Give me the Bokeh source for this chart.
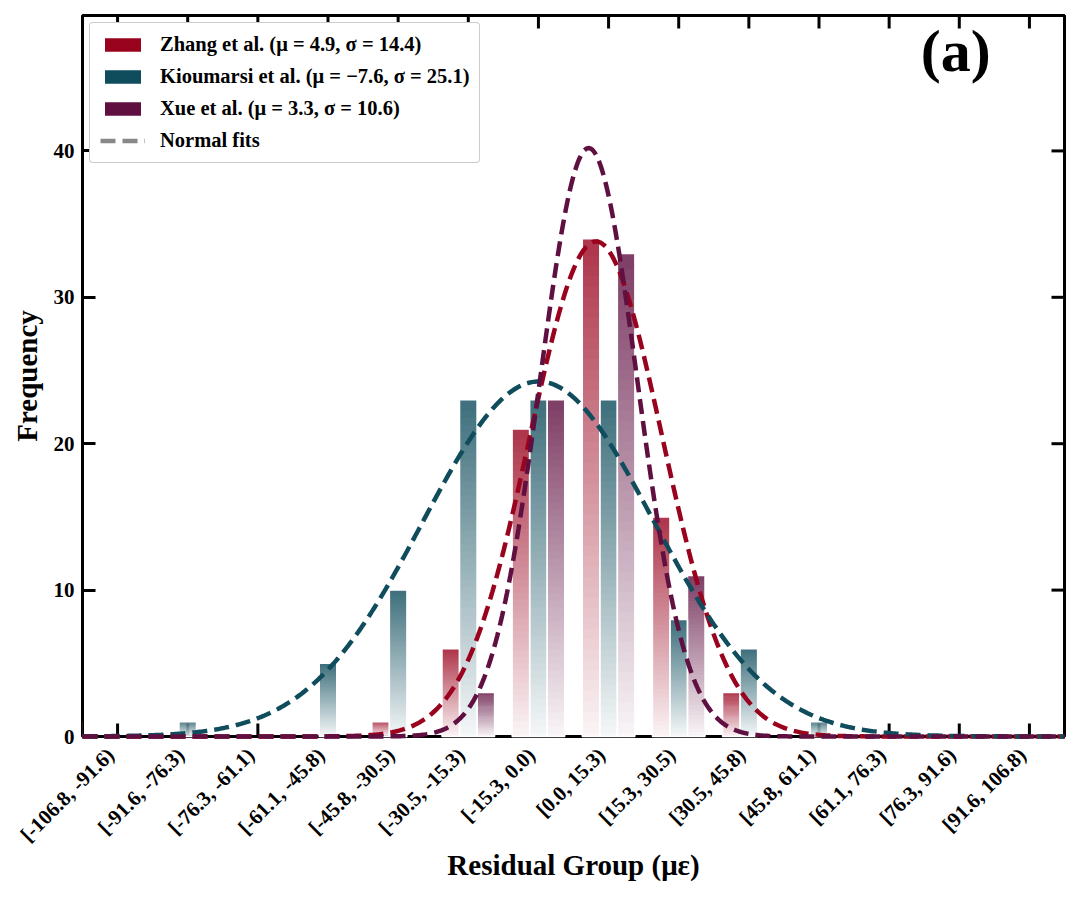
import numpy as np
from bokeh.plotting import figure
from bokeh.models import (ColumnDataSource, Legend, LegendItem, FixedTicker,
                          Range1d, Label)
from bokeh.embed import file_html
from bokeh.resources import INLINE

# ---------------- data ----------------
BIN_EDGES = [-106.8, -91.6, -76.3, -61.1, -45.8, -30.5, -15.3, 0.0,
             15.3, 30.5, 45.8, 61.1, 76.3, 91.6, 106.8]
BIN_LABELS = ["[-106.8, -91.6)", "[-91.6, -76.3)", "[-76.3, -61.1)",
              "[-61.1, -45.8)", "[-45.8, -30.5)", "[-30.5, -15.3)",
              "[-15.3, 0.0)", "[0.0, 15.3)", "[15.3, 30.5)", "[30.5, 45.8)",
              "[45.8, 61.1)", "[61.1, 76.3)", "[76.3, 91.6)", "[91.6, 106.8)"]

ZHANG_COUNTS = [0, 0, 0, 0, 1, 6, 21, 34, 15, 3, 0, 0, 0, 0]
KIOU_COUNTS = [0, 1, 0, 5, 10, 23, 23, 23, 8, 6, 1, 0, 0, 0]
XUE_COUNTS = [0, 0, 0, 0, 0, 3, 23, 33, 11, 0, 0, 0, 0, 0]

ZHANG_FIT = (4.9, 14.4)
KIOU_FIT = (-7.6, 25.1)
XUE_FIT = (3.3, 10.6)

SERIES_NAMES = ["Zhang et al.", "Kioumarsi et al.", "Xue et al."]
SERIES_COLORS = ["#9a031e", "#0f4c5c", "#5f0f40"]
Y_TICKS = [0, 10, 20, 30, 40]

# ---------------- figure ----------------
FONT = "Liberation Serif"
NB = len(BIN_LABELS)
Y_MAX = 49.25
W, H = 1080, 898
BORDER_L, BORDER_R, BORDER_T, BORDER_B = 82, 16, 15, 162
FRAME_H = H - BORDER_T - BORDER_B
p = figure(width=W, height=H,
           x_range=Range1d(-0.5, NB - 0.5), y_range=Range1d(0, Y_MAX),
           output_backend="svg", toolbar_location=None,
           min_border_left=BORDER_L, min_border_right=BORDER_R,
           min_border_top=BORDER_T, min_border_bottom=BORDER_B)
p.grid.visible = False
p.outline_line_color = "black"
p.outline_line_width = 3
p.background_fill_color = "white"
p.border_fill_color = "white"

series = [
    (SERIES_NAMES[0], ZHANG_COUNTS, ZHANG_FIT, SERIES_COLORS[0], -0.25),
    (SERIES_NAMES[1], KIOU_COUNTS, KIOU_FIT, SERIES_COLORS[1], 0.0),
    (SERIES_NAMES[2], XUE_COUNTS, XUE_FIT, SERIES_COLORS[2], 0.25),
]
BAR_W = 0.25
N_SLICES = 48
A_TOP, A_BOT = 0.80, 0.03
TICK_PX = 13


def blend(hex_color, a):
    h = hex_color.lstrip("#")
    rgb = [int(h[k:k + 2], 16) for k in (0, 2, 4)]
    out = [round(c * a + 255 * (1 - a)) for c in rgb]
    return "#%02x%02x%02x" % tuple(out)


bin_width = (BIN_EDGES[-1] - BIN_EDGES[0]) / NB
tick_len_y = TICK_PX * Y_MAX / FRAME_H

# inward ticks on all four frame edges (bottom ones sit under the bars)
p.segment(x0=list(range(NB)), y0=0.0, x1=list(range(NB)), y1=tick_len_y,
          line_color="black", line_width=3, level="overlay")
p.ray(x=list(range(NB)), y=Y_MAX, length=TICK_PX, length_units="screen",
      angle=-np.pi / 2, line_color="black", line_width=3, level="overlay")
p.ray(x=NB - 0.5, y=Y_TICKS, length=TICK_PX, length_units="screen",
      angle=np.pi, line_color="black", line_width=3, level="overlay")

# gradient bars (stacked opaque slices, each slightly overlapping the one below)
for name, counts, fit, color, off in series:
    L, R, B, T, C = [], [], [], [], []
    for i, c in enumerate(counts):
        if c <= 0:
            continue
        for j in range(N_SLICES):
            L.append(i + off - BAR_W / 2)
            R.append(i + off + BAR_W / 2)
            B.append(max(0.0, c * (j - 0.6) / N_SLICES))
            T.append(c * (j + 1) / N_SLICES)
            C.append(blend(color, A_BOT + (A_TOP - A_BOT) * (j + 0.5) / N_SLICES))
    src = ColumnDataSource(dict(left=L, right=R, bottom=B, top=T, color=C))
    p.quad(left="left", right="right", bottom="bottom", top="top", source=src,
           fill_color="color", fill_alpha=1.0, line_color=None, level="overlay")

# white bar outlines
for name, counts, fit, color, off in series:
    xs = [i + off for i, c in enumerate(counts) if c > 0]
    ts = [c for c in counts if c > 0]
    p.vbar(x=xs, top=ts, bottom=0, width=BAR_W, fill_color=None,
           line_color="white", line_width=1.5, level="overlay")

# normal fit curves
DASH = "15 7"
xg = np.linspace(-0.5, NB - 0.5, 600)
edge_pos = np.arange(NB + 1) - 0.5
vg = np.interp(xg, edge_pos, BIN_EDGES)
for name, counts, (mu, sd), color, off in series:
    n = sum(counts)
    yg = n * bin_width / (sd * np.sqrt(2 * np.pi)) * np.exp(-0.5 * ((vg - mu) / sd) ** 2)
    p.line(xg, yg, line_color=color, line_width=4.5, line_dash=DASH, level="overlay")

# ---------------- axes ----------------
def style_axis(ax):
    ax.axis_line_color = None
    ax.major_tick_in = 0
    ax.major_tick_out = 0
    ax.minor_tick_line_color = None
    ax.major_label_text_font = FONT
    ax.major_label_text_font_style = "bold"
    ax.major_label_text_color = "black"
    ax.major_label_text_font_size = "21px"
    ax.axis_label_text_font = FONT
    ax.axis_label_text_font_style = "bold"
    ax.axis_label_text_font_size = "29px"
    ax.axis_label_text_color = "black"

# rotated labels are right-aligned to their bin (as matplotlib ha="right"),
# so the label anchor sits slightly left of the bin centre
LABEL_SHIFT = 0.1
label_pos = [round(i - LABEL_SHIFT, 3) for i in range(NB)]
xa = p.xaxis[0]
xa.ticker = FixedTicker(ticks=label_pos)
xa.major_label_overrides = {pos: lab for pos, lab in zip(label_pos, BIN_LABELS)}
xa.major_label_orientation = np.pi / 4
style_axis(xa)
xa.major_label_standoff = 15
xa.axis_label = "Residual Group (με)"
xa.axis_label_standoff = -9

ya = p.yaxis[0]
ya.ticker = FixedTicker(ticks=Y_TICKS)
style_axis(ya)
ya.major_tick_in = TICK_PX
ya.major_tick_line_width = 3
ya.major_tick_line_color = "black"
ya.major_label_standoff = 8
ya.axis_label = "Frequency"
ya.axis_label_standoff = 8

# ---------------- legend ----------------
items = []
for name, counts, (mu, sd), color, off in series:
    r = p.vbar(x=[-100], top=[1], width=BAR_W, fill_color=color, line_color=None)
    mu_s = f"{mu:.1f}".replace("-", "\u2212")
    label = f"{name} (μ = {mu_s}, σ = {sd:.1f})"
    items.append(LegendItem(label=label, renderers=[r]))
rl = p.line(x=[-100, -99], y=[0, 0], line_color="#888888", line_width=4.5,
            line_dash=DASH)
items.append(LegendItem(label="Normal fits", renderers=[rl]))

legend = Legend(items=items, location="top_left")
legend.label_text_font = FONT
legend.label_text_font_style = "bold"
legend.label_text_font_size = "20.5px"
legend.label_text_color = "black"
legend.glyph_width = 45
legend.glyph_height = 17
legend.label_standoff = 15
legend.padding = 10
legend.spacing = 9
legend.margin = 7
legend.border_line_color = "#999999"
legend.border_line_width = 1.5
legend.background_fill_color = "white"
legend.background_fill_alpha = 1.0
if hasattr(legend, "border_radius"):
    try:
        legend.border_radius = 4
    except Exception:
        pass
p.add_layout(legend)

# panel label
p.add_layout(Label(x=11.95, y=46.8, text="(a)", text_align="center",
                   text_baseline="middle", text_font=FONT,
                   text_font_style="bold", text_font_size="60px",
                   text_color="black"))

open("out.html", "w").write(file_html(p, INLINE))
